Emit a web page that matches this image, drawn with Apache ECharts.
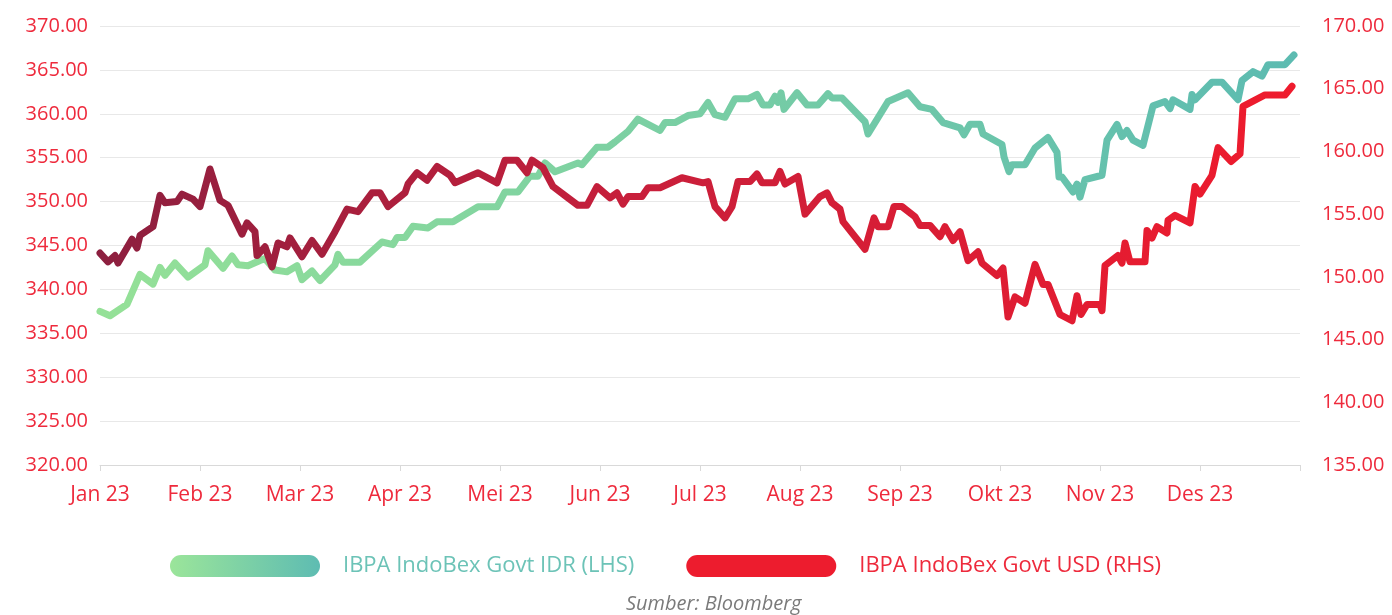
<!DOCTYPE html>
<html>
<head>
    <meta charset="utf-8">
    <title>IBPA IndoBex Govt</title>
    <script src="https://cdn.jsdelivr.net/npm/echarts@6/dist/echarts.min.js"></script>
    <style>
        html, body { margin: 0; padding: 0; background: #ffffff; }
        #chart { width: 1392px; height: 615px; }
    </style>
</head>
<body>
<div id="chart"></div>
<script>
    // label bulan (sumbu X), posisi 0 = awal Jan 23
    var months = ['Jan 23', 'Feb 23', 'Mar 23', 'Apr 23', 'Mei 23', 'Jun 23',
                  'Jul 23', 'Aug 23', 'Sep 23', 'Okt 23', 'Nov 23', 'Des 23'];

    // IBPA IndoBex Govt IDR (LHS) : [bulan ke-, nilai]
    var idrData = [
        [0.00, 337.5], [0.10, 337.0], [0.27, 338.3], [0.40, 341.7], [0.53, 340.6],
        [0.60, 342.5], [0.65, 341.6], [0.75, 343.0], [0.88, 341.4], [1.05, 342.8],
        [1.08, 344.4], [1.23, 342.4], [1.32, 343.8], [1.38, 342.8], [1.48, 342.7],
        [1.60, 343.3], [1.65, 343.5], [1.75, 342.2], [1.87, 342.0], [1.97, 342.7],
        [2.02, 341.1], [2.12, 342.1], [2.20, 341.0], [2.35, 342.8], [2.38, 344.0],
        [2.43, 343.1], [2.60, 343.1], [2.82, 345.4], [2.93, 345.1], [2.97, 345.9],
        [3.05, 345.9], [3.13, 347.2], [3.28, 347.0], [3.37, 347.7], [3.53, 347.7],
        [3.78, 349.4], [3.97, 349.4], [4.05, 351.1], [4.18, 351.1], [4.30, 352.9],
        [4.38, 352.9], [4.45, 354.4], [4.55, 353.4], [4.78, 354.4], [4.82, 354.2],
        [4.97, 356.2], [5.08, 356.2], [5.15, 356.8], [5.28, 358.0], [5.38, 359.4],
        [5.60, 358.1], [5.65, 359.0], [5.75, 359.0], [5.88, 359.8], [6.00, 360.0],
        [6.08, 361.3], [6.15, 359.9], [6.25, 359.6], [6.35, 361.7], [6.48, 361.7],
        [6.57, 362.2], [6.63, 361.0], [6.70, 361.0], [6.75, 362.0], [6.78, 361.3],
        [6.81, 362.4], [6.84, 360.5], [6.97, 362.4], [7.07, 361.0], [7.18, 361.0],
        [7.28, 362.3], [7.32, 361.8], [7.42, 361.8], [7.65, 359.1], [7.68, 357.7],
        [7.88, 361.4], [8.08, 362.4], [8.20, 360.8], [8.32, 360.5], [8.43, 359.0],
        [8.60, 358.4], [8.64, 357.6], [8.70, 358.8], [8.80, 358.8], [8.83, 357.7],
        [9.02, 356.5], [9.04, 355.1], [9.09, 353.4], [9.12, 354.2], [9.25, 354.2],
        [9.35, 356.1], [9.48, 357.3], [9.57, 355.6], [9.59, 352.8], [9.62, 352.8],
        [9.73, 351.1], [9.77, 352.0], [9.80, 350.5], [9.85, 352.5], [10.02, 353.0],
        [10.07, 357.0], [10.17, 358.8], [10.22, 357.4], [10.27, 358.1], [10.33, 357.0],
        [10.43, 356.4], [10.53, 360.9], [10.65, 361.4], [10.70, 360.6], [10.73, 361.6],
        [10.90, 360.5], [10.92, 362.2], [10.95, 361.6], [11.12, 363.6], [11.22, 363.6],
        [11.38, 361.6], [11.42, 363.8], [11.53, 364.8], [11.62, 364.3], [11.68, 365.6],
        [11.85, 365.6], [11.94, 366.7]
    ];

    // IBPA IndoBex Govt USD (RHS) : [bulan ke-, nilai]
    var usdData = [
        [0.00, 151.9], [0.08, 151.2], [0.15, 151.7], [0.18, 151.1], [0.32, 153.0],
        [0.37, 152.3], [0.40, 153.3], [0.53, 154.0], [0.60, 156.5], [0.65, 155.9],
        [0.77, 156.0], [0.82, 156.6], [0.93, 156.2], [1.00, 155.6], [1.10, 158.6],
        [1.20, 156.1], [1.28, 155.7], [1.42, 153.4], [1.47, 154.3], [1.55, 153.6],
        [1.57, 151.7], [1.65, 152.4], [1.72, 150.8], [1.78, 152.7], [1.87, 152.4],
        [1.90, 153.1], [2.02, 151.6], [2.12, 152.9], [2.22, 151.8], [2.35, 153.6],
        [2.47, 155.4], [2.58, 155.2], [2.72, 156.7], [2.80, 156.7], [2.88, 155.6],
        [3.05, 156.7], [3.08, 157.4], [3.17, 158.3], [3.27, 157.7], [3.37, 158.8],
        [3.50, 158.1], [3.55, 157.5], [3.78, 158.3], [3.97, 157.5], [4.05, 159.3],
        [4.17, 159.3], [4.27, 158.3], [4.32, 159.3], [4.43, 158.7], [4.53, 157.2],
        [4.68, 156.3], [4.78, 155.7], [4.87, 155.7], [4.97, 157.2], [5.10, 156.3],
        [5.17, 156.7], [5.23, 155.8], [5.28, 156.4], [5.42, 156.4], [5.48, 157.1],
        [5.60, 157.1], [5.82, 157.9], [6.03, 157.5], [6.08, 157.6], [6.15, 155.6],
        [6.25, 154.7], [6.32, 155.6], [6.38, 157.6], [6.50, 157.6], [6.57, 158.2],
        [6.62, 157.5], [6.75, 157.5], [6.80, 158.4], [6.85, 157.4], [6.98, 158.0],
        [7.05, 155.0], [7.20, 156.4], [7.27, 156.7], [7.32, 155.9], [7.40, 155.4],
        [7.43, 154.4], [7.65, 152.2], [7.74, 154.7], [7.78, 154.0], [7.88, 154.0],
        [7.94, 155.6], [8.02, 155.6], [8.15, 154.8], [8.20, 154.1], [8.30, 154.1],
        [8.40, 153.2], [8.45, 154.0], [8.53, 152.9], [8.60, 153.6], [8.68, 151.3],
        [8.78, 152.0], [8.82, 151.1], [8.97, 150.1], [9.03, 150.7], [9.08, 146.8],
        [9.15, 148.4], [9.25, 147.9], [9.35, 151.0], [9.43, 149.4], [9.48, 149.4],
        [9.60, 147.0], [9.72, 146.5], [9.77, 148.5], [9.81, 147.0], [9.87, 147.8],
        [10.00, 147.8], [10.02, 147.3], [10.05, 150.9], [10.18, 151.7], [10.22, 151.1],
        [10.25, 152.7], [10.30, 151.2], [10.45, 151.2], [10.47, 153.7], [10.52, 153.1],
        [10.57, 154.0], [10.67, 153.5], [10.68, 154.5], [10.75, 154.9], [10.90, 154.3],
        [10.95, 157.2], [11.00, 156.6], [11.12, 158.1], [11.18, 160.3], [11.31, 159.2],
        [11.40, 159.8], [11.43, 163.6], [11.65, 164.5], [11.85, 164.5], [11.92, 165.2]
    ];

    var merah = '#ee2a3c';
    var fontUtama = '"Open Sans", sans-serif';

    var gradHijau = new echarts.graphic.LinearGradient(0, 0, 1, 0, [
        { offset: 0, color: '#95e197' },
        { offset: 1, color: '#5cbbb1' }
    ]);
    var gradMerah = new echarts.graphic.LinearGradient(0, 0, 1, 0, [
        { offset: 0, color: '#8c1f3f' },
        { offset: 0.45, color: '#c81f3b' },
        { offset: 1, color: '#ef1b2d' }
    ]);
    var pil = 'path://M11,0 H139 A11,11 0 0 1 139,22 H11 A11,11 0 0 1 11,0 Z';

    var myChart = echarts.init(document.getElementById('chart'));
    myChart.setOption({
        animation: false,
        backgroundColor: '#ffffff',
        grid: { left: 100, right: 92, top: 26, bottom: 150 },
        legend: {
            left: 165,
            top: 550,
            itemWidth: 150,
            itemHeight: 22,
            itemGap: 52,
            textStyle: { fontFamily: fontUtama, fontSize: 22, padding: [0, 0, 0, 18] },
            data: [
                { name: 'IBPA IndoBex Govt IDR (LHS)', icon: pil,
                  itemStyle: { color: new echarts.graphic.LinearGradient(0, 0, 1, 0, [
                      { offset: 0, color: '#9be59a' }, { offset: 1, color: '#5ebcb2' }]) },
                  textStyle: { color: '#6cc3b7' } },
                { name: 'IBPA IndoBex Govt USD (RHS)', icon: pil,
                  itemStyle: { color: '#ed1c2e' },
                  textStyle: { color: merah } }
            ]
        },
        title: {
            text: 'Sumber: Bloomberg',
            left: 621,
            top: 589,
            textStyle: { fontFamily: fontUtama, fontSize: 20, fontStyle: 'italic', fontWeight: 'normal', color: '#7a7a7a' }
        },
        xAxis: {
            type: 'value',
            min: 0,
            max: 12,
            interval: 1,
            axisLine: { show: true, lineStyle: { color: '#d9d9d9', width: 1 } },
            axisTick: { show: true, length: 6, lineStyle: { color: '#d9d9d9' } },
            splitLine: { show: false },
            axisLabel: {
                margin: 20,
                color: merah,
                fontFamily: fontUtama,
                fontSize: 21,
                formatter: function (v) { return months[v] || ''; }
            }
        },
        yAxis: [
            {
                type: 'value',
                min: 320,
                max: 370,
                interval: 5,
                axisLine: { show: false },
                axisTick: { show: false },
                splitLine: { lineStyle: { color: '#e8e8e8', width: 1 } },
                axisLabel: {
                    margin: 12,
                    color: merah,
                    fontFamily: fontUtama,
                    fontSize: 20,
                    formatter: function (v) { return v.toFixed(2); }
                }
            },
            {
                type: 'value',
                min: 135,
                max: 170,
                interval: 5,
                axisLine: { show: false },
                axisTick: { show: false },
                splitLine: { show: false },
                axisLabel: {
                    margin: 22,
                    color: merah,
                    fontFamily: fontUtama,
                    fontSize: 20,
                    formatter: function (v) { return v.toFixed(2); }
                }
            }
        ],
        series: [
            {
                name: 'IBPA IndoBex Govt IDR (LHS)',
                type: 'line',
                yAxisIndex: 0,
                showSymbol: false,
                data: idrData,
                lineStyle: { width: 7, color: gradHijau, cap: 'round', join: 'round' },
                itemStyle: { color: '#5cbbb1' }
            },
            {
                name: 'IBPA IndoBex Govt USD (RHS)',
                type: 'line',
                yAxisIndex: 1,
                showSymbol: false,
                data: usdData,
                lineStyle: { width: 7, color: gradMerah, cap: 'round', join: 'round' },
                itemStyle: { color: '#ed1c2e' }
            }
        ]
    });
</script>
</body>
</html>
